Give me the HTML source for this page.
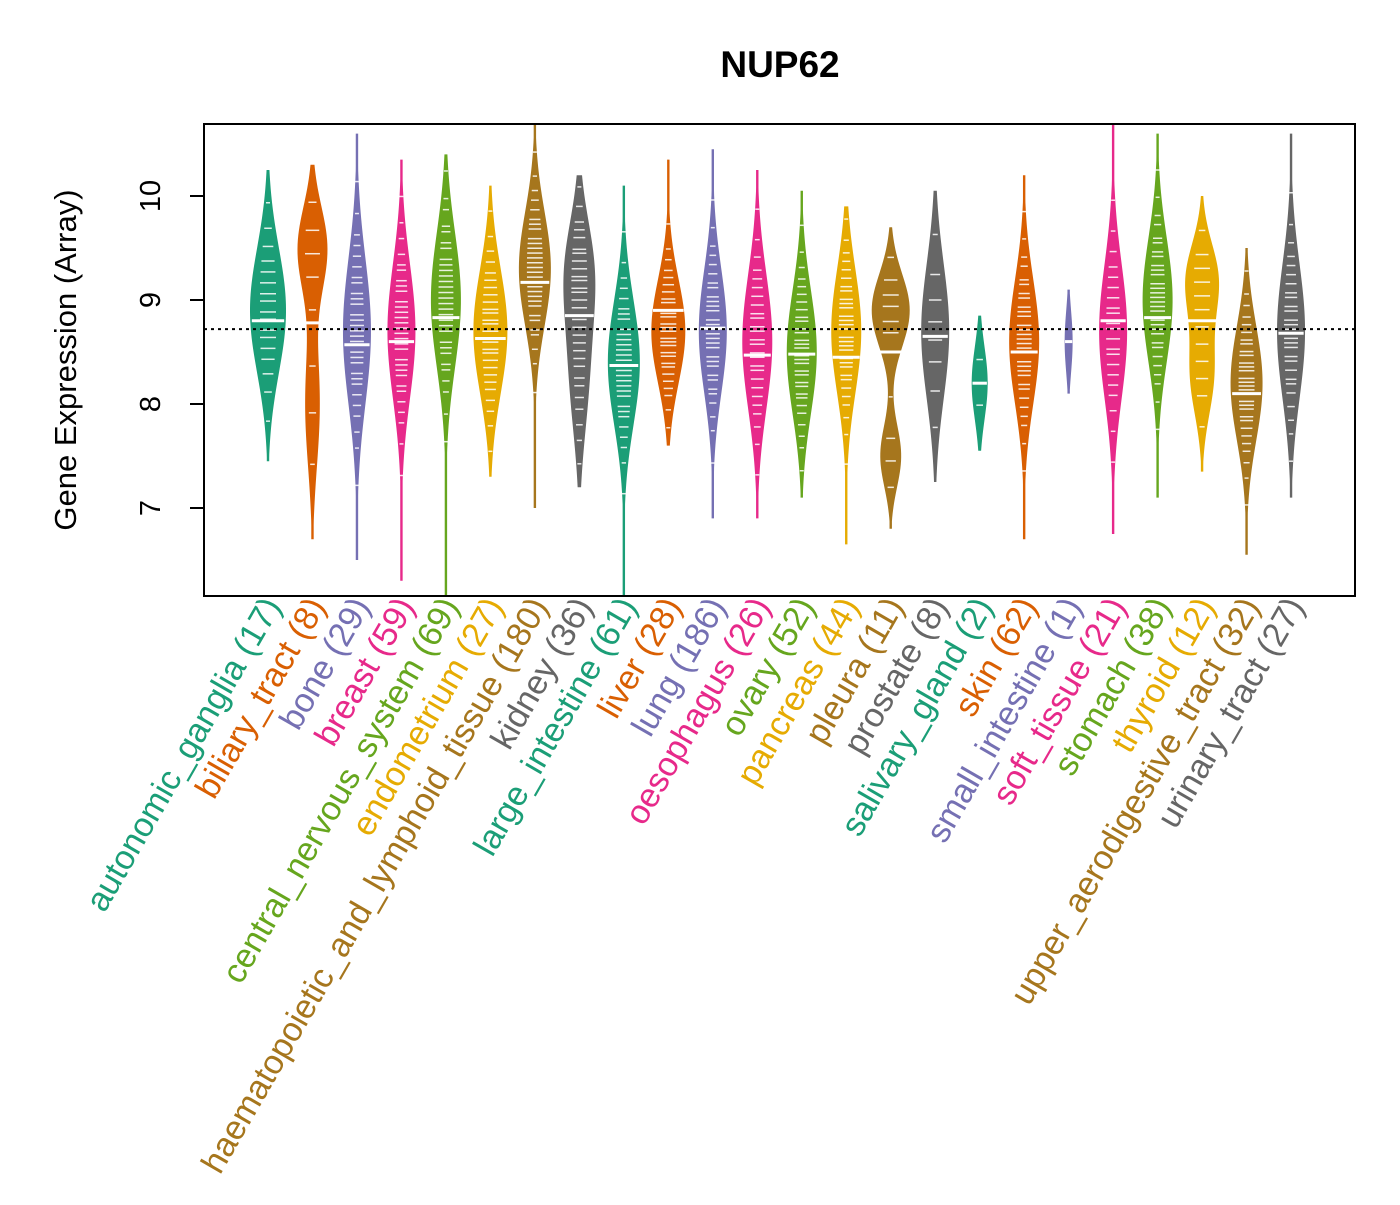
<!DOCTYPE html>
<html><head><meta charset="utf-8"><style>
body{margin:0;background:#fff}
svg text{font-family:"Liberation Sans",Arial,sans-serif}
</style></head><body>
<svg id="chart" width="1400" height="1200" xmlns="http://www.w3.org/2000/svg">
<rect width="1400" height="1200" fill="#fff"/>
<text x="780" y="77" font-size="37" font-weight="bold" text-anchor="middle">NUP62</text>
<text transform="translate(76,360) rotate(-90)" font-size="31" text-anchor="middle">Gene Expression (Array)</text>
<g id="plot"></g>
<rect x="204" y="124" width="1151" height="472" fill="none" stroke="#000" stroke-width="2"/>
</svg>
<script>
const categories=["autonomic_ganglia","biliary_tract","bone","breast","central_nervous_system","endometrium","haematopoietic_and_lymphoid_tissue","kidney","large_intestine","liver","lung","oesophagus","ovary","pancreas","pleura","prostate","salivary_gland","skin","small_intestine","soft_tissue","stomach","thyroid","upper_aerodigestive_tract","urinary_tract"];
const counts=[17,8,29,59,69,27,180,36,61,28,186,26,52,44,11,8,2,62,1,21,38,12,32,27];
const mins=[7.45,6.7,6.5,6.3,6.15,7.3,7.0,7.2,6.15,7.6,6.9,6.9,7.1,6.65,6.8,7.25,7.55,6.7,8.1,6.75,7.1,7.35,6.55,7.1];
const maxs=[10.25,10.3,10.6,10.35,10.4,10.1,10.7,10.2,10.1,10.35,10.45,10.25,10.05,9.9,9.7,10.05,8.85,10.2,9.1,10.7,10.6,10.0,9.5,10.6];
const medians=[8.8,8.78,8.57,8.6,8.83,8.63,9.17,8.85,8.37,8.9,8.73,8.47,8.48,8.45,8.5,8.65,8.2,8.5,8.6,8.8,8.83,8.8,8.1,8.68];
const modeCenters=[[8.9],[9.5,8.0],[8.7],[8.7],[9.0],[8.7],[9.3],[9.3,8.3],[8.4],[8.7],[8.7],[8.6],[8.5],[8.7],[8.9,7.5],[8.7],[8.2],[8.6],[8.6],[8.7],[9.0],[9.2,8.3],[8.2],[8.7]];
const modeSigmas=[[0.6],[0.4,0.6],[0.7],[0.65],[0.65],[0.6],[0.55],[0.5,0.6],[0.6],[0.5],[0.6],[0.65],[0.6],[0.6],[0.35,0.3],[0.65],[0.35],[0.6],[0.3],[0.65],[0.6],[0.35,0.4],[0.55],[0.65]];
const modeWeights=[[1],[1,0.5],[1],[1],[1],[1],[1],[1,0.7],[1],[1],[1],[1],[1],[1],[1,0.55],[1],[1],[1],[1],[1],[1],[1,0.75],[1],[1]];
const halfWidths=[18,15,14,14,15,17,16,16,16,17,14,15,15,15,19,14,8,15,4,14,15,17,16,14];
const overallMean=8.72;
const yTicks=[7,8,9,10];
const colors=["#1B9E77","#D95F02","#7570B3","#E7298A","#66A61E","#E6AB02","#A6761D","#666666"];
const NS="http://www.w3.org/2000/svg";
const yScale=v=>300-(v-9)*104;
const xScale=i=>268+i*44.48;
const plot=document.getElementById('plot');
const svg=document.getElementById('chart');
function mk(t,a,p){const e=document.createElementNS(NS,t);for(const k in a)e.setAttribute(k,a[k]);(p||plot).appendChild(e);return e;}
mk('line',{x1:204,x2:204,y1:yScale(7),y2:yScale(10),stroke:'#000','stroke-width':2},svg);
yTicks.forEach(t=>{
 const l=mk('line',{x1:190,x2:204,y1:yScale(t),y2:yScale(t),stroke:'#000','stroke-width':2},svg);
 
 
 const tx=mk('text',{transform:`translate(160,${yScale(t)}) rotate(-90)`,'font-size':29,'text-anchor':'middle'},svg);
 tx.textContent=t;
 
 
});
categories.forEach((c,i)=>{
 const col=colors[i%8],x=xScale(i);
 const dens=v=>modeCenters[i].reduce((s,m,k)=>s+modeWeights[i][k]*Math.exp(-0.5*((v-m)/modeSigmas[i][k])**2),0);
 let mx=0;const N=80,vs=[];
 for(let k=0;k<=N;k++){const v=mins[i]+(maxs[i]-mins[i])*k/N;vs.push(v);mx=Math.max(mx,dens(v));}
 let r=[],l=[];
 vs.forEach(v=>{const w=Math.max(1.2,halfWidths[i]*dens(v)/mx);r.push(`${x+w},${yScale(v)}`);l.unshift(`${x-w},${yScale(v)}`);});
 const p=mk('polygon',{points:r.concat(l).join(' '),fill:col});
 
 
 const n=Math.min(counts[i],30);
 let cum=[0];for(let k=1;k<=N;k++)cum.push(cum[k-1]+dens(vs[k]));
 for(let j=0;j<n;j++){const q=(j+0.5)/n*cum[N];let k=cum.findIndex(cv=>cv>=q);const v=vs[k];
  const w=Math.min(8,Math.max(2,halfWidths[i]*dens(v)/mx*0.5));
  mk('line',{x1:x-w,x2:x+w,y1:yScale(v),y2:yScale(v),stroke:'#fff','stroke-width':1.5,opacity:0.85});}
 const md=mk('line',{x1:x-halfWidths[i]*0.9,x2:x+halfWidths[i]*0.9,y1:yScale(medians[i]),y2:yScale(medians[i]),stroke:'#fff','stroke-width':3});
 
 
 const t=mk('text',{transform:`translate(${x+14},606) rotate(-60)`,'font-size':34,'text-anchor':'end',fill:col},svg);
 t.textContent=`${c} (${counts[i]})`;
 
 
});
const ml=mk('line',{x1:204,x2:1355,y1:yScale(overallMean),y2:yScale(overallMean),stroke:'#000','stroke-width':2,'stroke-dasharray':'3,4'});


</script>
</body></html>
